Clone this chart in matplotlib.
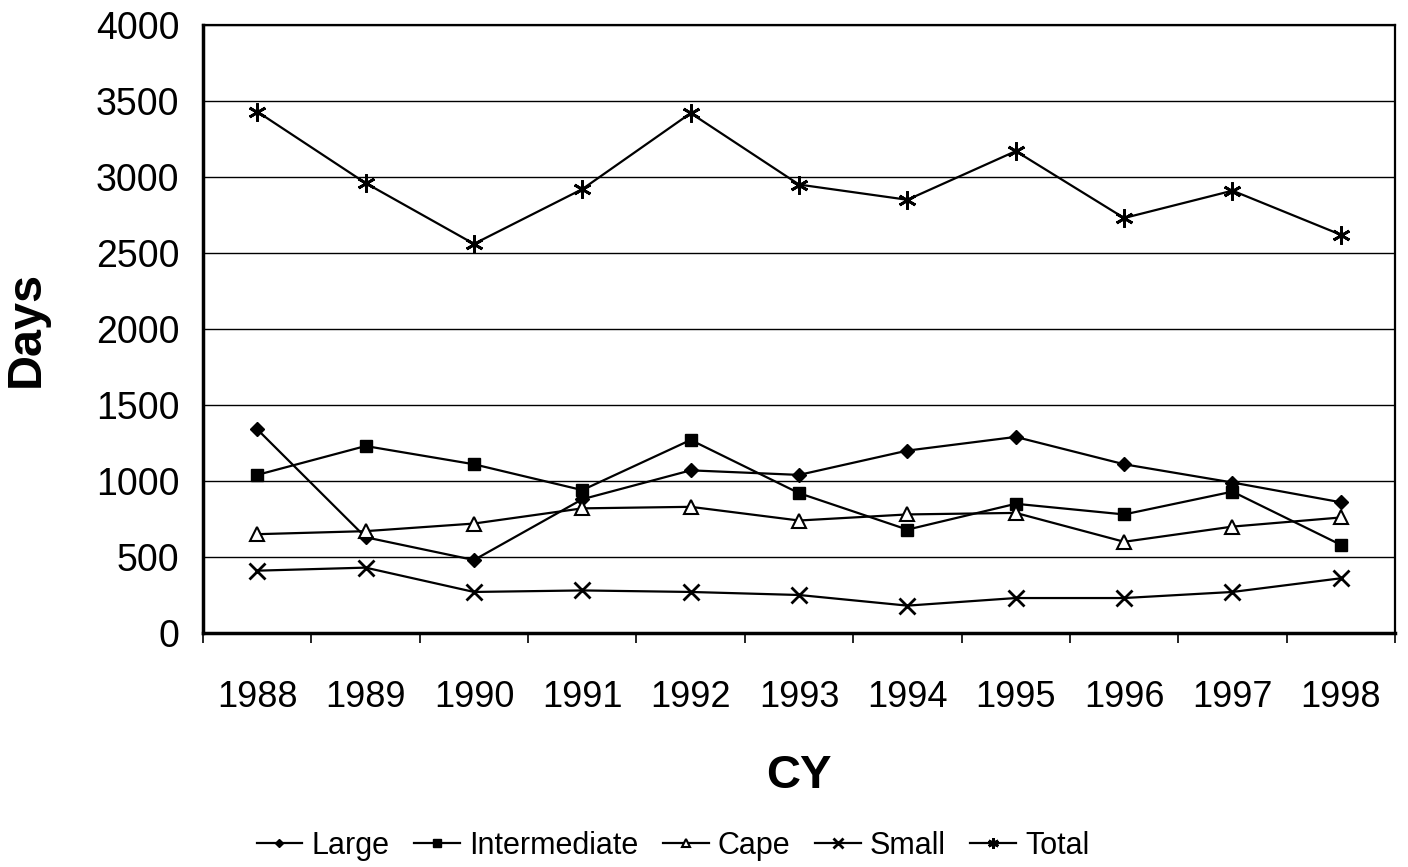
import matplotlib
matplotlib.use("Agg")
import matplotlib.pyplot as plt
import numpy as np

years = ["1988", "1989", "1990", "1991", "1992", "1993", "1994", "1995", "1996", "1997", "1998"]
large = [1340, 630, 480, 880, 1070, 1040, 1200, 1290, 1110, 990, 860]
intermediate = [1040, 1230, 1110, 940, 1270, 920, 680, 850, 780, 930, 580]
cape = [650, 670, 720, 820, 830, 740, 780, 790, 600, 700, 760]
small = [410, 430, 270, 280, 270, 250, 180, 230, 230, 270, 360]
total = [3430, 2960, 2560, 2920, 3420, 2950, 2850, 3170, 2730, 2910, 2620]

plt.rcParams['font.family'] = ['Liberation Sans', 'DejaVu Sans']

fig = plt.figure(figsize=(14.08, 8.67), dpi=100)
ax = fig.add_axes([0.1442, 0.2699, 0.8466, 0.7013])

x = np.arange(len(years))
lw = 1.6
ax.plot(x, large, color='black', lw=lw, marker='D', ms=7, mfc='black', label='Large')
ax.plot(x, intermediate, color='black', lw=lw, marker='s', ms=9, mfc='black', label='Intermediate')
ax.plot(x, cape, color='black', lw=lw, marker='^', ms=10, mfc='white', mew=1.5, label='Cape')
ax.plot(x, small, color='black', lw=lw, marker='x', ms=11, mew=2, label='Small')
ax.plot(x, total, color='black', lw=lw, marker=(6, 2, 0), ms=13, mew=2, label='Total')

ax.set_xlim(-0.5, len(years) - 0.5)
ax.set_ylim(0, 4000)
ax.set_yticks(np.arange(0, 4001, 500))
ax.yaxis.grid(True, color='black', lw=1.0)
ax.set_axisbelow(True)
ax.tick_params(axis='y', length=0, labelsize=27, pad=17)

ax.set_xticks(x)
ax.set_xticklabels(years)
ax.set_xticks(np.arange(-0.5, len(years), 1), minor=True)
ax.tick_params(axis='x', which='major', length=0, labelsize=26, pad=34)
ax.tick_params(axis='x', which='minor', length=7, width=1.2, direction='out')

for s in ax.spines.values():
    s.set_color('black')
    s.set_linewidth(1.6)
ax.spines['left'].set_linewidth(2.5)
ax.spines['bottom'].set_linewidth(2.5)

ax.set_ylabel('Days', fontsize=35, fontweight='bold', labelpad=34)
ax.set_xlabel('CY', fontsize=34, fontweight='bold', labelpad=28)

fig.legend(loc='lower center', bbox_to_anchor=(0.478, -0.025), ncol=5, frameon=False,
           fontsize=22, handlelength=1.5, handletextpad=0.3, columnspacing=0.8, markerscale=0.6)

fig.savefig('out.png', dpi=100)
